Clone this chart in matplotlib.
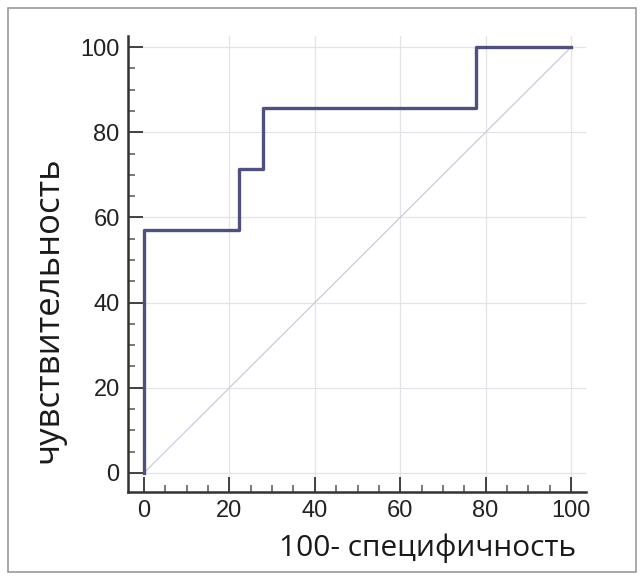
import matplotlib
matplotlib.use("Agg")
import matplotlib.pyplot as plt
from matplotlib.patches import Rectangle
from matplotlib.ticker import MultipleLocator

# ROC curve steps (100 - specificity, sensitivity)
fpr = [0, 0, 22.2, 22.2, 27.8, 27.8, 77.8, 77.8, 100]
tpr = [0, 57.1, 57.1, 71.4, 71.4, 85.7, 85.7, 100, 100]
diag = [0, 100]
ticks = [0, 20, 40, 60, 80, 100]
xlabel = "100- специфичность"
ylabel = "чувствительность"

fig = plt.figure(figsize=(6.44, 5.8), dpi=100)
ax = fig.add_axes([0.1988, 0.1517, 0.711, 0.786])

# light grid
for t in ticks:
    ax.axhline(t, color="#e3e3ea", lw=0.9, zorder=0)
    if t > 0:
        ax.axvline(t, color="#e3e3ea", lw=0.9, zorder=0)

ax.plot(diag, diag, color="#c9cbe0", lw=0.9, zorder=1)
ax.plot(fpr, tpr, color="#4f5080", lw=2.4, zorder=2)

ax.set_xlim(-3.75, 103.5)
ax.set_ylim(-4.5, 102.6)
ax.set_xticks(ticks)
ax.set_yticks(ticks)
ax.xaxis.set_minor_locator(MultipleLocator(5))
ax.yaxis.set_minor_locator(MultipleLocator(5))

ax.spines["top"].set_visible(False)
ax.spines["right"].set_visible(False)
for s in ["left", "bottom"]:
    ax.spines[s].set_linewidth(1.8)
    ax.spines[s].set_color("#333333")

ax.tick_params(which="major", direction="in", length=11, width=1.3, color="#333333",
               labelsize=17, labelcolor="#222222", pad=6)
ax.tick_params(which="minor", direction="in", length=5, width=1.1, color="#555555")
for lab in ax.get_xticklabels() + ax.get_yticklabels():
    lab.set_family("Liberation Sans")

fig.text(428 / 644, 1 - 548 / 580, xlabel, ha="center", va="center",
         fontsize=21.5, family=["Open Sans", "DejaVu Sans"], color="#1a1a1a")
fig.text(48 / 644, 1 - 310 / 580, ylabel, ha="center", va="center", rotation=90,
         fontsize=25, family=["Open Sans", "DejaVu Sans"], color="#1a1a1a")

# outer frame
fig.patches.append(Rectangle((8 / 644, 8 / 580), 628 / 644, 564 / 580,
                             transform=fig.transFigure, fill=False,
                             edgecolor="#9a9a9a", lw=1.2))

fig.savefig("out.png", dpi=100)
